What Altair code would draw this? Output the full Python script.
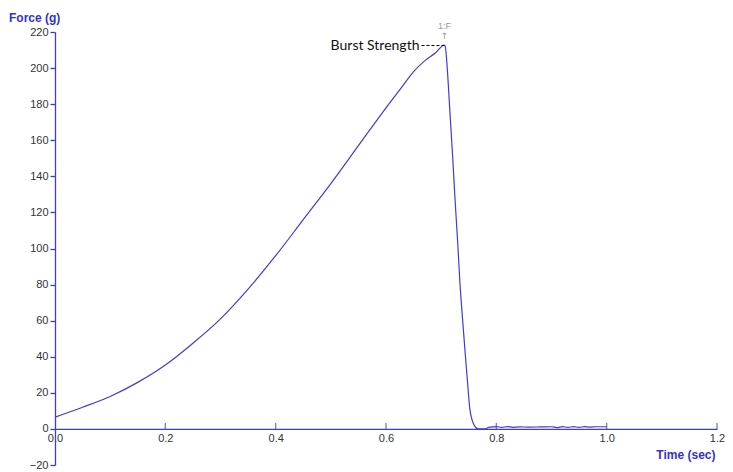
import altair as alt
import pandas as pd

# --- data ---
time_sec = [0.0, 0.05, 0.10, 0.15, 0.20, 0.25, 0.30, 0.35, 0.40,
            0.45, 0.50, 0.55, 0.60, 0.63, 0.65, 0.67, 0.69, 0.706,
            0.708, 0.711, 0.716, 0.721, 0.725, 0.730, 0.734, 0.739, 0.743, 0.748,
            0.752, 0.756, 0.760, 0.767, 0.782, 0.785, 0.79, 0.80, 0.81, 0.82,
            0.83, 0.84, 0.86, 0.88, 0.90, 0.91, 0.92, 0.93, 0.94, 0.95,
            0.96, 0.97, 0.98, 1.0]
force_g = [6.5, 12.0, 18.0, 25.8, 35.4, 47.5, 61.0, 77.5, 96.0,
           116.0, 136.0, 157.0, 178.0, 190.0, 198.0, 204.0, 208.5, 212.8,
           211.0, 200.0, 175.0, 150.0, 128.0, 103.0, 81.0, 60.0, 44.0, 25.0,
           11.0, 5.0, 2.0, 0.0, 0.0, 0.8, 1.0, 1.3, 0.8, 1.3,
           0.9, 1.1, 1.0, 1.1, 1.2, 0.7, 1.3, 0.8, 1.3, 0.8,
           1.3, 1.0, 1.2, 1.2]

x_ticks = [0.0, 0.2, 0.4, 0.6, 0.8, 1.0, 1.2]
y_ticks = [-20, 0, 20, 40, 60, 80, 100, 120, 140, 160, 180, 200, 220]

peak_time = [0.706]
peak_force = [212.5]
peak_label = ["Burst Strength"]

y_title = ["Force (g)"]
x_title = "Time (sec)"

BLUE = "#3c3cdc"
TITLE_BLUE = "#3232d2"
W, H = 662, 433

df = pd.DataFrame({"t": time_sec, "f": force_g})
ticks_df = pd.DataFrame({"t": x_ticks[1:]})
peak_df = pd.DataFrame({"t": peak_time, "f": peak_force, "label": peak_label})
ytitle_df = pd.DataFrame({"txt": y_title})

xscale = alt.Scale(domain=[0, 1.2], nice=False, zero=False)
yscale = alt.Scale(domain=[-20, 220], nice=False, zero=False)
offset_x_axis = -H * 20 / 240

x_axis = alt.Axis(values=x_ticks, format=".1f", ticks=False, grid=False,
                  offset=offset_x_axis, domainColor=BLUE, domainWidth=1.3,
                  labelFont="Liberation Sans", labelFontSize=11, labelColor="#333333",
                  labelPadding=4, labelFlush=False, labelOverlap=False,
                  title=x_title, titleFont="Liberation Sans", titleFontSize=12,
                  titleFontWeight="bold", titleColor=TITLE_BLUE,
                  titleAnchor="end", titleAlign="right", titleX=W - 2, titleY=26,
                  titleBaseline="middle")
y_axis = alt.Axis(values=y_ticks, grid=False, tickSize=5, tickColor=BLUE,
                  tickWidth=1.3, domainColor=BLUE, domainWidth=1.3,
                  labelFont="Liberation Sans", labelFontSize=11, labelColor="#333333",
                  labelPadding=2, labelFlush=False, labelOverlap=False,
                  title="")

X = alt.X("t:Q", scale=xscale, axis=x_axis)
Y = alt.Y("f:Q", scale=yscale, axis=y_axis)

line = alt.Chart(df).mark_line(color=BLUE, strokeWidth=1.2, interpolate="monotone").encode(
    x=X, y=Y)

ytitle = alt.Chart(ytitle_df).mark_text(align="left", baseline="middle",
                                        font="Liberation Sans", fontSize=12,
                                        fontWeight="bold", color=TITLE_BLUE).encode(
    x=alt.value(-46), y=alt.value(-14), text="txt:N")

xticks = alt.Chart(ticks_df).mark_tick(orient="vertical", size=6, thickness=1.3,
                                        color=BLUE, yOffset=-3).encode(
    x=X,
    y=alt.datum(0, scale=yscale, axis=y_axis),
)

dash = alt.Chart(peak_df).mark_rule(color="black", strokeDash=[3, 2], strokeWidth=1,
                                    x2Offset=-24).encode(x=X, x2="t:Q", y=Y)

label = alt.Chart(peak_df).mark_text(align="right", baseline="middle", dx=-25, dy=0,
                                     font="Lato", fontSize=14, color="#111111").encode(
    x=X, y=Y, text="label:N")

tag = alt.Chart(peak_df).mark_text(align="center", baseline="middle", dy=-20,
                                   font="Liberation Sans", fontSize=9, color="#999999").encode(
    x=X, y=Y, text=alt.value("1:F"))

arrow = alt.Chart(peak_df).mark_text(align="center", baseline="middle", dy=-10,
                                     font="DejaVu Sans", fontSize=9, color="#999999").encode(
    x=X, y=Y, text=alt.value("↑"))

chart = alt.layer(line, xticks, dash, label, tag, arrow, ytitle).properties(
    width=W, height=H,
    background="white",
    autosize=alt.AutoSizeParams(type="none"),
    padding={"left": 47, "top": 24, "right": 8, "bottom": 8},
).configure_view(strokeWidth=0, stroke="transparent")

chart.save("out.html", embed_options={"renderer": "svg", "actions": False})
